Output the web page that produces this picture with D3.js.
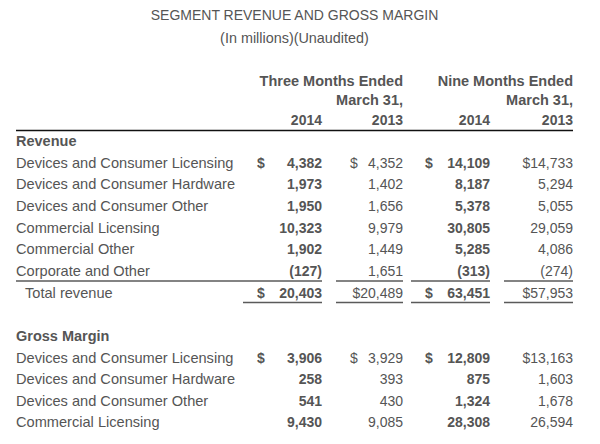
<!DOCTYPE html>
<html>
<head>
<meta charset="utf-8">
<script src="https://cdn.jsdelivr.net/npm/d3@7"></script>
<style>
  html, body { margin: 0; padding: 0; background: #fff; }
  svg { display: block; font-family: "Liberation Sans", Arial, sans-serif; }
</style>
</head>
<body>
<svg id="chart" width="600" height="444"></svg>
<script>
// ---- Data ----
const title = "SEGMENT REVENUE AND GROSS MARGIN";
const subtitle = "(In millions)(Unaudited)";
const periodHeaders = [["Three Months Ended", "March 31,"], ["Nine Months Ended", "March 31,"]];
const yearLabels = ["2014", "2013", "2014", "2013"];

const revenueCategories = [
  "Devices and Consumer Licensing",
  "Devices and Consumer Hardware",
  "Devices and Consumer Other",
  "Commercial Licensing",
  "Commercial Other",
  "Corporate and Other"
];
const revenue3m2014 = [4382, 1973, 1950, 10323, 1902, -127];
const revenue3m2013 = [4352, 1402, 1656, 9979, 1449, 1651];
const revenue9m2014 = [14109, 8187, 5378, 30805, 5285, -313];
const revenue9m2013 = [14733, 5294, 5055, 29059, 4086, -274];
const totalRevenue = [20403, 20489, 63451, 57953];

const marginCategories = [
  "Devices and Consumer Licensing",
  "Devices and Consumer Hardware",
  "Devices and Consumer Other",
  "Commercial Licensing"
];
const margin3m2014 = [3906, 258, 541, 9430];
const margin3m2013 = [3929, 393, 430, 9085];
const margin9m2014 = [12809, 875, 1324, 28308];
const margin9m2013 = [13163, 1603, 1678, 26594];

// ---- Setup ----
const svg = d3.select("#chart");
const textColor = "#555";
const fmtNum = d3.format(",");
const fmt = v => v < 0 ? "(" + fmtNum(-v) + ")" : fmtNum(v);

const colKeys = ["c0", "c1", "c2", "c3"];
const colRight = d3.scaleOrdinal().domain(colKeys).range([322, 403, 490, 573]);
const colLeft = d3.scaleOrdinal().domain(colKeys).range([243, 336, 411, 504]);
const dollarX = d3.scaleOrdinal().domain(["c0", "c1", "c2"]).range([257, 350, 425]);
const colBold = [true, false, true, false];

const rowY = d3.scaleLinear().domain([0, 13]).range([146, 146 + 13 * 21.65]);
const labelX = 16, tableRight = 573;

// Title
svg.append("text").attr("x", 294.5).attr("y", 20).attr("text-anchor", "middle")
  .attr("font-size", 14).attr("fill", textColor).text(title);
svg.append("text").attr("x", 294.5).attr("y", 42.5).attr("text-anchor", "middle")
  .attr("font-size", 14.4).attr("fill", textColor).text(subtitle);

// Column headers
const hdrRight = [colRight("c1"), colRight("c3")];
periodHeaders.forEach((lines, i) => {
  lines.forEach((ln, j) => {
    svg.append("text").attr("x", hdrRight[i]).attr("y", [86, 104.5][j])
      .attr("text-anchor", "end").attr("font-size", 14.5).attr("font-weight", "bold")
      .attr("fill", textColor).text(ln);
  });
});
svg.selectAll("text.year").data(yearLabels).join("text").attr("class", "year")
  .attr("x", (d, i) => colRight(colKeys[i])).attr("y", 125)
  .attr("text-anchor", "end").attr("font-size", 14).attr("font-weight", "bold")
  .attr("fill", textColor).text(d => d);

svg.append("line").attr("x1", labelX).attr("x2", tableRight).attr("y1", 130.5).attr("y2", 130.5)
  .attr("stroke", "#111").attr("stroke-width", 1.3);

function dollar(key, y, bold) {
  svg.append("text").attr("x", dollarX(key)).attr("y", y)
    .attr("font-size", 14).attr("font-weight", bold ? "bold" : "normal")
    .attr("fill", textColor).text("$");
}

// Section builder
function section(headerIdx, heading, cats, cols, firstDollar) {
  svg.append("text").attr("x", labelX).attr("y", rowY(headerIdx))
    .attr("font-size", 14.5).attr("font-weight", "bold").attr("fill", textColor).text(heading);
  cats.forEach((c, r) => {
    const y = rowY(headerIdx + 1 + r);
    svg.append("text").attr("x", labelX).attr("y", y).attr("font-size", 14.6)
      .attr("fill", textColor).text(c);
    cols.forEach((arr, ci) => {
      const key = colKeys[ci];
      const showDollar = firstDollar && r === 0;
      let str = fmt(arr[r]);
      if (showDollar && ci === 3) str = "$" + str;
      svg.append("text").attr("x", colRight(key)).attr("y", y).attr("text-anchor", "end")
        .attr("font-size", 14).attr("font-weight", colBold[ci] ? "bold" : "normal")
        .attr("fill", textColor).text(str);
      if (showDollar && ci < 3) dollar(key, y, colBold[ci]);
    });
  });
}

section(0, "Revenue", revenueCategories, [revenue3m2014, revenue3m2013, revenue9m2014, revenue9m2013], true);

// Lines above total
const lineColor = "#5a5a5a";
colKeys.forEach((k, i) => {
  svg.append("line").attr("x1", i === 0 ? labelX : colLeft(k)).attr("x2", colRight(k))
    .attr("y1", 281).attr("y2", 281).attr("stroke", lineColor).attr("stroke-width", 1.3);
});

// Total row
const totalY = rowY(7);
svg.append("text").attr("x", 25).attr("y", totalY).attr("font-size", 14.6)
  .attr("fill", textColor).text("Total revenue");
totalRevenue.forEach((v, i) => {
  const k = colKeys[i];
  let str = fmt(v);
  if (i === 1 || i === 3) str = "$" + str;
  svg.append("text").attr("x", colRight(k)).attr("y", totalY).attr("text-anchor", "end")
    .attr("font-size", 14).attr("font-weight", colBold[i] ? "bold" : "normal")
    .attr("fill", textColor).text(str);
  if (i === 0 || i === 2) dollar(k, totalY, true);
  svg.append("line").attr("x1", colLeft(k)).attr("x2", colRight(k))
    .attr("y1", 302.5).attr("y2", 302.5).attr("stroke", lineColor).attr("stroke-width", 1.6);
});

section(9, "Gross Margin", marginCategories, [margin3m2014, margin3m2013, margin9m2014, margin9m2013], true);
</script>
</body>
</html>
